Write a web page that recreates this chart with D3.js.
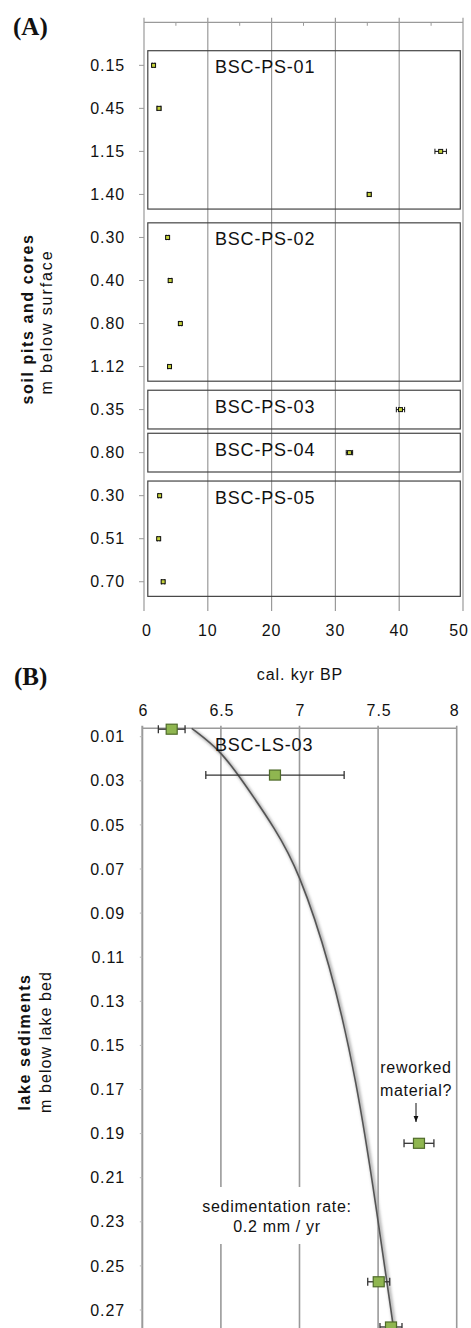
<!DOCTYPE html>
<html>
<head>
<meta charset="utf-8">
<script src="https://cdn.jsdelivr.net/npm/d3@7"></script>
<style>
  html, body { margin: 0; padding: 0; background: #fff; }
  svg text { font-family: "Liberation Sans", Arial, Helvetica, sans-serif; fill: #111; }
</style>
</head>
<body>
<svg id="chart"></svg>
<script>
var width = 471,
    height = 1328;

// ---- panel A: soil pits and cores ----
var pitNames = ["BSC-PS-01", "BSC-PS-02", "BSC-PS-03", "BSC-PS-04", "BSC-PS-05"];
var pitGroup = [0, 0, 0, 0, 1, 1, 1, 1, 2, 3, 4, 4, 4];
var pitDepthLabels = ["0.15", "0.45", "1.15", "1.40", "0.30", "0.40", "0.80", "1.12", "0.35", "0.80", "0.30", "0.51", "0.70"];
var pitAge = [1.5, 2.35, 46.5, 35.3, 3.7, 4.1, 5.7, 4.0, 40.2, 32.2, 2.45, 2.3, 3.0];
var pitErr = [0.2, 0.3, 0.9, 0.3, 0.2, 0.25, 0.2, 0.25, 0.65, 0.5, 0.2, 0.2, 0.25];
var ageTicksA = [0, 10, 20, 30, 40, 50];
var ageMinorA = [5, 15, 25, 35, 45];

// ---- panel B: lake sediments ----
var lakeDepthTicks = [0.01, 0.03, 0.05, 0.07, 0.09, 0.11, 0.13, 0.15, 0.17, 0.19, 0.21, 0.23, 0.25, 0.27];
var lakeAge = [6.187, 6.844, 7.76, 7.504, 7.582];
var lakeDepth = [0.0066, 0.0274, 0.1944, 0.2572, 0.2777];
var lakeErr = [0.085, 0.44, 0.095, 0.07, 0.07];
var ageTicksB = [6, 6.5, 7, 7.5, 8];
// trend line
var trendAge = [6.314, 6.494, 6.634, 6.851, 6.992, 7.194, 7.364, 7.491, 7.597];
var trendDepth = [0.0062, 0.016, 0.0296, 0.0523, 0.0705, 0.1126, 0.1657, 0.2246, 0.2777];

var svg = d3.select('#chart')
  .attr('width', width)
  .attr('height', height);

var gridColor = '#9a9a9a';

// ================= Panel A =================
var xA = d3.scaleLinear().domain([0, 50]).range([144, 463]);
var yA = d3.scaleLinear().domain([-1, 12.68]).range([22.3, 611]);
var rows = d3.range(pitAge.length);

var gA = svg.append('g');

// gridlines
gA.selectAll('line.grid')
  .data(ageTicksA)
  .join('line')
  .attr('class', 'grid')
  .attr('x1', d => xA(d)).attr('x2', d => xA(d))
  .attr('y1', yA(-1) - 4.5).attr('y2', yA(12.68))
  .style('stroke', gridColor)
  .style('stroke-width', 1.2);

// top axis line + minor ticks
gA.append('line')
  .attr('x1', xA(0)).attr('x2', xA(50))
  .attr('y1', yA(-1)).attr('y2', yA(-1))
  .style('stroke', gridColor).style('stroke-width', 1.2);
gA.selectAll('line.minor')
  .data(ageMinorA)
  .join('line')
  .attr('class', 'minor')
  .attr('x1', d => xA(d)).attr('x2', d => xA(d))
  .attr('y1', yA(-1)).attr('y2', yA(-1) + 3.5)
  .style('stroke', gridColor).style('stroke-width', 1);

// y ticks
gA.selectAll('line.ytick')
  .data(rows)
  .join('line')
  .attr('class', 'ytick')
  .attr('x1', xA(0) - 5).attr('x2', xA(0))
  .attr('y1', d => yA(d)).attr('y2', d => yA(d))
  .style('stroke', gridColor).style('stroke-width', 1);

gA.selectAll('text.ylab')
  .data(rows)
  .join('text')
  .attr('class', 'ylab')
  .attr('x', 125)
  .attr('y', d => yA(d))
  .attr('dy', '0.35em')
  .attr('text-anchor', 'end')
  .style('font-size', '16px')
  .style('letter-spacing', '0.9px')
  .text(d => pitDepthLabels[d]);

// sample boxes
var groups = pitNames.map(function(name, i) {
  var idx = rows.filter(r => pitGroup[r] === i);
  var first = d3.min(idx), last = d3.max(idx);
  var pad = first === last ? 0.45 : 0.34;
  return {name: name, top: yA(first - pad), bottom: yA(last + pad)};
});

gA.selectAll('rect.box')
  .data(groups)
  .join('rect')
  .attr('class', 'box')
  .attr('x', xA(0) + 3.8)
  .attr('y', d => d.top)
  .attr('width', xA(50) - xA(0) - 6.5)
  .attr('height', d => d.bottom - d.top)
  .style('fill', 'none')
  .style('stroke', '#444')
  .style('stroke-width', 1.2);

gA.selectAll('text.boxlab')
  .data(groups)
  .join('text')
  .attr('class', 'boxlab')
  .attr('x', 215)
  .attr('y', d => d.top + 22.5)
  .style('font-size', '18px')
  .style('letter-spacing', '0.8px')
  .text(d => d.name);

// error bars
var eA = gA.selectAll('g.err').data(rows).join('g').attr('class', 'err');
eA.append('line')
  .attr('x1', d => xA(pitAge[d] - pitErr[d])).attr('x2', d => xA(pitAge[d] + pitErr[d]))
  .attr('y1', d => yA(d)).attr('y2', d => yA(d))
  .style('stroke', '#111').style('stroke-width', 1);
eA.append('line')
  .attr('x1', d => xA(pitAge[d] - pitErr[d])).attr('x2', d => xA(pitAge[d] - pitErr[d]))
  .attr('y1', d => yA(d) - 2.7).attr('y2', d => yA(d) + 2.7)
  .style('stroke', '#111').style('stroke-width', 1);
eA.append('line')
  .attr('x1', d => xA(pitAge[d] + pitErr[d])).attr('x2', d => xA(pitAge[d] + pitErr[d]))
  .attr('y1', d => yA(d) - 2.7).attr('y2', d => yA(d) + 2.7)
  .style('stroke', '#111').style('stroke-width', 1);

gA.selectAll('rect.pt')
  .data(rows)
  .join('rect')
  .attr('class', 'pt')
  .attr('x', d => xA(pitAge[d]) - 2)
  .attr('y', d => yA(d) - 2)
  .attr('width', 4).attr('height', 4)
  .style('fill', '#c5d23a')
  .style('stroke', '#111')
  .style('stroke-width', 1);

// x tick labels
gA.selectAll('text.xlab')
  .data(ageTicksA)
  .join('text')
  .attr('class', 'xlab')
  .attr('x', d => xA(d) + (d === 0 ? 3 : d === 50 ? -4 : 0))
  .attr('y', 636)
  .attr('text-anchor', 'middle')
  .style('font-size', '16px')
  .style('letter-spacing', '0.9px')
  .text(d => d);

// axis title
gA.append('text')
  .attr('transform', 'translate(33,319) rotate(-90)')
  .attr('text-anchor', 'middle')
  .style('font-size', '16px')
  .style('font-weight', 'bold')
  .style('letter-spacing', '1.6px')
  .text('soil pits and cores');
gA.append('text')
  .attr('transform', 'translate(52,322) rotate(-90)')
  .attr('text-anchor', 'middle')
  .style('font-size', '16px')
  .style('letter-spacing', '1.9px')
  .text('m below surface');

svg.append('text')
  .attr('x', 13).attr('y', 35)
  .style('font-family', '"Liberation Serif", "Times New Roman", serif')
  .style('font-weight', 'bold')
  .style('font-size', '25px')
  .text('(A)');

// ================= Panel B =================
var xB = d3.scaleLinear().domain([6, 8]).range([142.3, 456.7]);
var yB = d3.scaleLinear().domain([0.01, 0.27]).range([736.7, 1310]);
var topB = 728.3;

var gB = svg.append('g');

svg.append('text')
  .attr('x', 14).attr('y', 685)
  .style('font-family', '"Liberation Serif", "Times New Roman", serif')
  .style('font-weight', 'bold')
  .style('font-size', '25px')
  .text('(B)');

gB.append('text')
  .attr('x', 300).attr('y', 680)
  .attr('text-anchor', 'middle')
  .style('font-size', '16px')
  .style('letter-spacing', '0.9px')
  .text('cal. kyr BP');

gB.selectAll('line.grid')
  .data(ageTicksB)
  .join('line')
  .attr('class', 'grid')
  .attr('x1', d => xB(d)).attr('x2', d => xB(d))
  .attr('y1', topB - 2.5).attr('y2', height)
  .style('stroke', gridColor)
  .style('stroke-width', d => d === 6 ? 2 : 1.6);

gB.append('line')
  .attr('x1', xB(6)).attr('x2', xB(8))
  .attr('y1', topB).attr('y2', topB)
  .style('stroke', gridColor).style('stroke-width', 1.6);

gB.selectAll('text.xlab')
  .data(ageTicksB)
  .join('text')
  .attr('class', 'xlab')
  .attr('x', d => xB(d) + (d === 8 ? -2 : 1))
  .attr('y', 716)
  .attr('text-anchor', 'middle')
  .style('font-size', '16px')
  .style('letter-spacing', '0.9px')
  .text(d => d);

gB.selectAll('line.ytick')
  .data(lakeDepthTicks)
  .join('line')
  .attr('class', 'ytick')
  .attr('x1', xB(6) - 2.5).attr('x2', xB(6))
  .attr('y1', d => yB(d)).attr('y2', d => yB(d))
  .style('stroke', '#bbb').style('stroke-width', 1);

gB.selectAll('text.ylab')
  .data(lakeDepthTicks)
  .join('text')
  .attr('class', 'ylab')
  .attr('x', 125)
  .attr('y', d => yB(d))
  .attr('dy', '0.35em')
  .attr('text-anchor', 'end')
  .style('font-size', '16px')
  .style('letter-spacing', '0.9px')
  .text(d => d3.format('.2f')(d));

// sedimentation rate label, white behind it
gB.append('rect')
  .attr('x', 198).attr('y', 1187)
  .attr('width', 158).attr('height', 57)
  .style('fill', '#fff');
gB.append('text')
  .attr('x', 277).attr('y', 1212)
  .attr('text-anchor', 'middle')
  .style('font-size', '16px')
  .style('letter-spacing', '0.7px')
  .text('sedimentation rate:');
gB.append('text')
  .attr('x', 277).attr('y', 1232)
  .attr('text-anchor', 'middle')
  .style('font-size', '16px')
  .style('letter-spacing', '0.7px')
  .text('0.2 mm / yr');

// trend line
var defs = svg.append('defs');
defs.append('filter').attr('id', 'blur')
  .attr('x', '-20%').attr('y', '-5%').attr('width', '140%').attr('height', '110%')
  .append('feGaussianBlur').attr('stdDeviation', 1.6);

var trend = d3.range(trendAge.length).map(i => [trendAge[i], trendDepth[i]]);
var line = d3.line()
  .x(d => xB(d[0]))
  .y(d => yB(d[1]))
  .curve(d3.curveBasis);

gB.append('path')
  .attr('d', line(trend))
  .attr('transform', 'translate(1.5,1.5)')
  .style('fill', 'none')
  .style('stroke', '#aaa')
  .style('stroke-width', 3)
  .attr('filter', 'url(#blur)');
gB.append('path')
  .attr('d', line(trend))
  .style('fill', 'none')
  .style('stroke', '#555')
  .style('stroke-width', 1.6);

gB.append('text')
  .attr('x', 215).attr('y', 751)
  .style('font-size', '18px')
  .style('letter-spacing', '0.8px')
  .text('BSC-LS-03');

// reworked material note
gB.append('text')
  .attr('x', 416).attr('y', 1073)
  .attr('text-anchor', 'middle')
  .style('font-size', '16px')
  .style('letter-spacing', '0.7px')
  .text('reworked');
gB.append('text')
  .attr('x', 416).attr('y', 1096)
  .attr('text-anchor', 'middle')
  .style('font-size', '16px')
  .style('letter-spacing', '0.7px')
  .text('material?');
defs.append('marker').attr('id', 'arrow')
  .attr('viewBox', '0 0 10 10').attr('refX', 10).attr('refY', 5)
  .attr('markerWidth', 6).attr('markerHeight', 6).attr('orient', 'auto')
  .append('path').attr('d', 'M0,1 L10,5 L0,9 z').style('fill', '#111');
gB.append('line')
  .attr('x1', 416).attr('x2', 416)
  .attr('y1', 1103).attr('y2', 1122)
  .style('stroke', '#111').style('stroke-width', 1)
  .attr('marker-end', 'url(#arrow)');

// lake points
var pts = d3.range(lakeAge.length);
var eB = gB.selectAll('g.err').data(pts).join('g').attr('class', 'err');
eB.append('line')
  .attr('x1', d => xB(lakeAge[d] - lakeErr[d])).attr('x2', d => xB(lakeAge[d] + lakeErr[d]))
  .attr('y1', d => yB(lakeDepth[d])).attr('y2', d => yB(lakeDepth[d]))
  .style('stroke', '#333').style('stroke-width', 1.3);
eB.append('line')
  .attr('x1', d => xB(lakeAge[d] - lakeErr[d])).attr('x2', d => xB(lakeAge[d] - lakeErr[d]))
  .attr('y1', d => yB(lakeDepth[d]) - 4).attr('y2', d => yB(lakeDepth[d]) + 4)
  .style('stroke', '#333').style('stroke-width', 1.3);
eB.append('line')
  .attr('x1', d => xB(lakeAge[d] + lakeErr[d])).attr('x2', d => xB(lakeAge[d] + lakeErr[d]))
  .attr('y1', d => yB(lakeDepth[d]) - 4).attr('y2', d => yB(lakeDepth[d]) + 4)
  .style('stroke', '#333').style('stroke-width', 1.3);

gB.selectAll('rect.pt')
  .data(pts)
  .join('rect')
  .attr('class', 'pt')
  .attr('x', d => xB(lakeAge[d]) - 5.5)
  .attr('y', d => yB(lakeDepth[d]) - 5)
  .attr('width', 11).attr('height', 10)
  .style('fill', '#8fb650')
  .style('stroke', '#4f6b2a')
  .style('stroke-width', 1.2);

gB.append('text')
  .attr('transform', 'translate(30,1042) rotate(-90)')
  .attr('text-anchor', 'middle')
  .style('font-size', '16px')
  .style('font-weight', 'bold')
  .style('letter-spacing', '1.6px')
  .text('lake sediments');
gB.append('text')
  .attr('transform', 'translate(51,1042) rotate(-90)')
  .attr('text-anchor', 'middle')
  .style('font-size', '16px')
  .style('letter-spacing', '1.1px')
  .text('m below lake bed');
</script>
</body>
</html>
